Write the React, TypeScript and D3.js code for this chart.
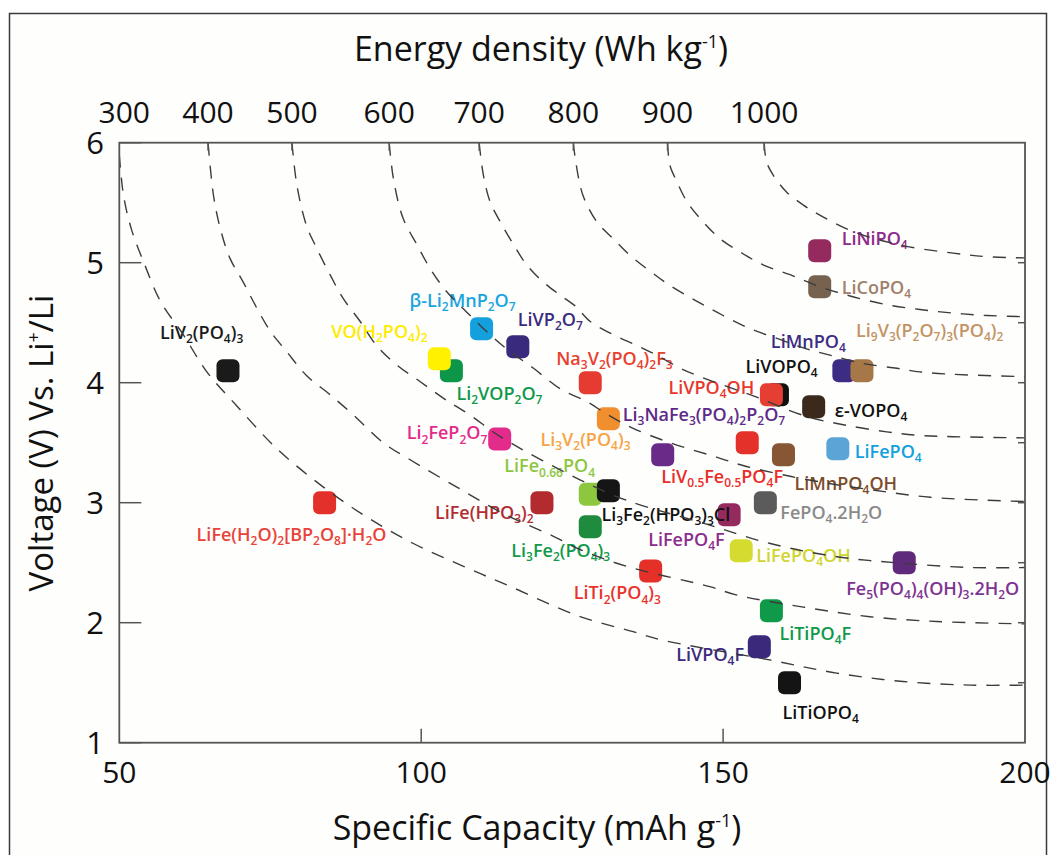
import React from 'react';
import * as d3 from 'd3';

// ---------- data ----------
const names = [
  'LiV_{2}(PO_{4})_{3}',
  'LiFe(H_{2}O)_{2}[BP_{2}O_{8}]·H_{2}O',
  'Li_{2}VOP_{2}O_{7}',
  'VO(H_{2}PO_{4})_{2}',
  'β-Li_{2}MnP_{2}O_{7}',
  'LiVP_{2}O_{7}',
  'Li_{2}FeP_{2}O_{7}',
  'LiFe(HPO_{3})_{2}',
  'Na_{3}V_{2}(PO_{4})_{2}F_{3}',
  'Li_{3}V_{2}(PO_{4})_{3}',
  'LiFe_{0.66}PO_{4}',
  'Li_{3}Fe_{2}(HPO_{3})_{3}Cl',
  'Li_{3}Fe_{2}(PO_{4})_{3}',
  'LiTi_{2}(PO_{4})_{3}',
  'Li_{3}NaFe_{3}(PO_{4})_{2}P_{2}O_{7}',
  'LiV_{0.5}Fe_{0.5}PO_{4}F',
  'LiFePO_{4}F',
  'LiFePO_{4}OH',
  'FePO_{4}.2H_{2}O',
  'LiMnPO_{4}OH',
  'LiFePO_{4}',
  'Fe_{5}(PO_{4})_{4}(OH)_{3}.2H_{2}O',
  'LiTiPO_{4}F',
  'LiVPO_{4}F',
  'LiTiOPO_{4}',
  'LiNiPO_{4}',
  'LiCoPO_{4}',
  'LiMnPO_{4}',
  'Li_{9}V_{3}(P_{2}O_{7})_{3}(PO_{4})_{2}',
  'LiVOPO_{4}',
  'LiVPO_{4}OH',
  'ε-VOPO_{4}',
];

const capacity = [68, 84, 105, 103, 110, 116, 113, 120, 128, 131, 128, 131, 128, 138, 140, 154, 151, 153, 157, 160, 169, 180, 158, 156, 161, 166, 166, 170, 173, 159, 158, 165];
const voltage = [4.1, 3.0, 4.1, 4.2, 4.45, 4.3, 3.53, 3.0, 4.0, 3.7, 3.07, 3.1, 2.8, 2.43, 3.4, 3.5, 2.9, 2.6, 3.0, 3.4, 3.45, 2.5, 2.1, 1.8, 1.5, 5.1, 4.8, 4.1, 4.1, 3.9, 3.9, 3.8];

const markerColors = [
  '#1a1a1a', '#e3302a', '#0c9647', '#fff100', '#14a0dc', '#3a2a7e', '#e32b8b', '#b32b2f',
  '#e53b30', '#f18f2e', '#8dc63f', '#151515', '#1e8b3f', '#e52f29', '#6a2a87', '#e4312a',
  '#952a5f', '#d5dc2f', '#5b5b5b', '#875634', '#5aa5d6', '#5f2a7b', '#0e9a48', '#3b2a7c',
  '#141414', '#952a5e', '#76624f', '#3d2c84', '#a67848', '#111111', '#e53e32', '#3b2a1c',
];
const labelColors = [
  '#1a1a1a', '#e8433a', '#10994a', '#ffeb00', '#1aa5de', '#3b2a80', '#e42b8b', '#b22d31',
  '#e8402f', '#f7a444', '#8dc63f', '#111111', '#129a4a', '#e8342d', '#5d2a88', '#ea2d2a',
  '#8c2c8c', '#cfd52f', '#8a8a8a', '#7d4c2a', '#12a1dc', '#7d3391', '#10994a', '#3b2a7e',
  '#111111', '#8e2a88', '#a0806a', '#3d2c84', '#c39465', '#111111', '#e8372d', '#111111',
];
// label placement relative to marker centre (px): [dx to text start, dy to baseline]
const labelOffsets: [number, number][] = [
  [-68, -32], [-128, 38], [5, 29], [-108, -21], [-72, -22], [0, -21], [-93, 0], [-107, 16],
  [-34, -18], [-68, 27], [-86, -22], [-7, 30], [-79, 30], [-77, 28], [-40, -34], [-86, 40],
  [-81, 31], [15, 11], [15, 16], [11, 35], [17, 9], [-58, 32], [8, 29], [-83, 14],
  [-7, 36], [22, -6], [22, 7], [-73, -23], [-6, -34], [-32, -22], [-103, -1], [21, 10],
];

// iso-energy guide curves (capacity, voltage)
const energyLevels = [300, 400, 500, 600, 700, 800, 900, 1000];
const iso300: [number, number][] = [[50, 5.9], [50.7, 5.56], [52, 5.28], [54, 5.01], [56.8, 4.68], [60.6, 4.4], [64.5, 4.09], [69.4, 3.81], [76.1, 3.45], [83.8, 3.13], [91, 2.88], [98.7, 2.66], [107, 2.47], [115.3, 2.29], [125.8, 2.06], [135.1, 1.925], [139.5, 1.86], [157.7, 1.69], [168.8, 1.58], [179.8, 1.51], [190.9, 1.48], [200, 1.48]];
const iso400: [number, number][] = [[64.7, 6], [65.6, 5.56], [66.7, 5.29], [68.3, 5.04], [70.5, 4.84], [72.8, 4.62], [75, 4.43], [77.7, 4.26], [81, 4.06], [84.9, 3.9], [88.8, 3.73], [93.7, 3.5], [98.1, 3.36], [105.9, 3.13], [113.6, 2.91], [121.9, 2.72], [126.3, 2.61], [134, 2.47], [147.8, 2.3], [152.3, 2.23], [163.3, 2.13], [174.3, 2.05], [185.4, 2.01], [200, 1.99]];
const iso500: [number, number][] = [[78.6, 6], [79.4, 5.65], [81, 5.31], [82.7, 5.12], [84.9, 4.9], [87.1, 4.7], [89.9, 4.51], [92.6, 4.31], [95.9, 4.15], [99.8, 4.01], [103.7, 3.87], [108.1, 3.73], [113.1, 3.55], [126.3, 3.19], [134, 3.02], [146.7, 2.83], [157.8, 2.66], [168.8, 2.55], [179.8, 2.495], [190.9, 2.46], [200, 2.46]];
const iso600: [number, number][] = [[94.7, 6], [95.4, 5.7], [97, 5.37], [99.3, 5.15], [101.5, 4.95], [104.2, 4.76], [107.5, 4.59], [111.4, 4.4], [114.7, 4.26], [118.6, 4.12], [123, 3.95], [127.5, 3.84], [131, 3.73], [135.1, 3.62], [141.2, 3.5], [148.9, 3.38], [153.3, 3.31], [161.1, 3.22], [168.8, 3.15], [174.3, 3.11], [184.3, 3.045], [200, 3.01]];
const iso700: [number, number][] = [[109.6, 6], [110.3, 5.73], [111.4, 5.51], [113.1, 5.34], [115.3, 5.15], [117.5, 4.98], [120.2, 4.84], [123, 4.73], [125.5, 4.64], [128, 4.51], [131.8, 4.4], [135.7, 4.31], [139, 4.23], [142.9, 4.12], [146.7, 4.04], [156.1, 3.87], [159.9, 3.79], [164.4, 3.71], [169.9, 3.65], [177.1, 3.59], [182.6, 3.56], [188.1, 3.55], [200, 3.54]];
const iso800: [number, number][] = [[125.2, 6], [125.6, 5.84], [126.8, 5.56], [129.1, 5.34], [131.8, 5.2], [134.6, 5.06], [137.9, 4.93], [141.2, 4.81], [145.6, 4.68], [150, 4.56], [154.5, 4.45], [158.9, 4.37], [163.3, 4.29], [167.7, 4.23], [173.2, 4.16], [178.8, 4.12], [182.6, 4.09], [188.1, 4.07], [200, 4.05]];
const iso900: [number, number][] = [[140.8, 6], [141.2, 5.81], [142.3, 5.68], [144, 5.51], [146.7, 5.34], [149.5, 5.2], [152.8, 5.09], [156.7, 4.98], [161.1, 4.9], [165.5, 4.81], [170.5, 4.73], [177.1, 4.65], [182.6, 4.61], [188.1, 4.58], [193.7, 4.56], [200, 4.55]];
const iso1000: [number, number][] = [[156.8, 6], [157.2, 5.84], [158.3, 5.73], [160.5, 5.59], [163.3, 5.48], [166.6, 5.38], [172, 5.25], [180, 5.14], [188.1, 5.08], [193.7, 5.05], [200, 5.04]];
const isoCurves = [iso300, iso400, iso500, iso600, iso700, iso800, iso900, iso1000];

const xTicks = [50, 100, 150, 200];
const yTicks = [1, 2, 3, 4, 5, 6];
const rightTicks = [1.5, 2, 2.5, 3, 3.5, 4, 4.5, 5];

// ---------- helpers ----------
type Seg = { t: string; k: 'n' | 'sub' | 'sup' };
function parseFormula(s: string): Seg[] {
  const re = /_\{([^}]*)\}|\^\{([^}]*)\}|([^_^]+)/g;
  const out: Seg[] = [];
  let m: RegExpExecArray | null;
  while ((m = re.exec(s))) {
    if (m[1] !== undefined) out.push({ t: m[1], k: 'sub' });
    else if (m[2] !== undefined) out.push({ t: m[2], k: 'sup' });
    else out.push({ t: m[3], k: 'n' });
  }
  return out;
}

function Rich(props: {
  text: string; x: number; y: number; fill: string; size: number; weight?: number;
  subSize: number; subShift: number; supShift: number; anchor?: string; transform?: string;
}) {
  const segs = parseFormula(props.text);
  let cur = 0;
  return (
    <text x={props.x} y={props.y} fill={props.fill} fontSize={props.size}
      fontWeight={props.weight ?? 400} fontFamily="'Open Sans', sans-serif"
      textAnchor={props.anchor ?? 'start'} transform={props.transform}>
      {segs.map((s, i) => {
        const target = s.k === 'sub' ? props.subShift : s.k === 'sup' ? -props.supShift : 0;
        const dy = target - cur;
        cur = target;
        return (
          <tspan key={i} dy={dy} fontSize={s.k === 'n' ? props.size : props.subSize}>{s.t}</tspan>
        );
      })}
    </text>
  );
}

export default function App() {
  const left = 119.3, right = 1025, top = 142.7, bottom = 742.7;
  const x = d3.scaleLinear().domain([50, 200]).range([left, right]);
  const y = d3.scaleLinear().domain([1, 6]).range([bottom, top]);
  // energy at the top edge -> capacity where each iso-energy curve meets V = 6
  const eTop = d3.scaleLinear().domain(energyLevels).range(isoCurves.map((c) => c[0][0]));
  const line = d3.line<[number, number]>().x((d) => x(d[0])).y((d) => y(d[1])).curve(d3.curveCatmullRom.alpha(0.5));

  const axisColor = '#555';
  const mSize = 23;

  return (
    <svg width={1051} height={855} style={{ position: 'absolute', left: 0, top: 0, background: '#fff' }}>
      <defs>
        <clipPath id="plotClip">
          <rect x={left} y={top} width={right - left} height={bottom - top} />
        </clipPath>
      </defs>
      <rect x={9.5} y={13.5} width={1037} height={900} fill="#fefefd" stroke="#3a3a3a" strokeWidth={1.5} />

      {/* markers */}
      {capacity.map((c, i) => (
        <rect key={'m' + i} x={x(c) - mSize / 2} y={y(voltage[i]) - mSize / 2} width={mSize} height={mSize}
          rx={6} ry={6} fill={markerColors[i]} />
      ))}
      {/* labels */}
      {capacity.map((c, i) => (
        <Rich key={'l' + i} text={names[i]} x={x(c) + labelOffsets[i][0]} y={y(voltage[i]) + labelOffsets[i][1]}
          fill={labelColors[i]} size={18} weight={600} subSize={12} subShift={4.5} supShift={6} />
      ))}

      {/* iso-energy curves */}
      <g clipPath="url(#plotClip)">
        {isoCurves.map((pts, i) => (
          <path key={'c' + i} d={line(pts) || ''} fill="none" stroke="#3c3c3c" strokeWidth={1.4} strokeDasharray="13 10" />
        ))}
      </g>

      {/* frame */}
      <rect x={left} y={top} width={right - left} height={bottom - top} fill="none" stroke={axisColor} strokeWidth={1.8} />
      {yTicks.map((v) => (
        <line key={'yt' + v} x1={left} x2={left + 22} y1={y(v)} y2={y(v)} stroke={axisColor} strokeWidth={1.5} />
      ))}
      {xTicks.slice(1, -1).map((c) => (
        <line key={'xt' + c} x1={x(c)} x2={x(c)} y1={bottom} y2={bottom - 14} stroke={axisColor} strokeWidth={1.5} />
      ))}
      {energyLevels.slice(1).map((e) => (
        <line key={'et' + e} x1={x(eTop(e))} x2={x(eTop(e))} y1={top} y2={top + 8} stroke={axisColor} strokeWidth={1.5} />
      ))}
      {rightTicks.map((v) => (
        <line key={'rt' + v} x1={right} x2={right - 7} y1={y(v)} y2={y(v)} stroke={axisColor} strokeWidth={1.5} />
      ))}

      {/* tick labels */}
      {yTicks.map((v) => (
        <text key={'yl' + v} x={104} y={y(v)} dy="0.36em" textAnchor="end" fontSize={31}
          fontFamily="'Open Sans', sans-serif" fill="#111">{v}</text>
      ))}
      {xTicks.map((c) => (
        <text key={'xl' + c} x={x(c)} y={783} textAnchor="middle" fontSize={30}
          fontFamily="'Open Sans', sans-serif" fill="#111">{c}</text>
      ))}
      {energyLevels.map((e) => (
        <text key={'el' + e} x={x(eTop(e)) + (e === 300 ? 5 : 0)} y={123} textAnchor="middle" fontSize={30}
          fontFamily="'Open Sans', sans-serif" fill="#111">{e}</text>
      ))}

      {/* axis titles */}
      <Rich text="Energy density (Wh kg^{-1})" x={541} y={61} fill="#111" size={34} anchor="middle"
        subSize={18} subShift={5} supShift={13} />
      <Rich text="Specific Capacity (mAh g^{-1})" x={537} y={840} fill="#111" size={34} anchor="middle"
        subSize={18} subShift={5} supShift={13} />
      <Rich text="Voltage (V) Vs. Li^{+}/Li" x={0} y={0} fill="#111" size={33} anchor="middle"
        subSize={18} subShift={5} supShift={13} transform="translate(53,443) rotate(-90)" />
    </svg>
  );
}
